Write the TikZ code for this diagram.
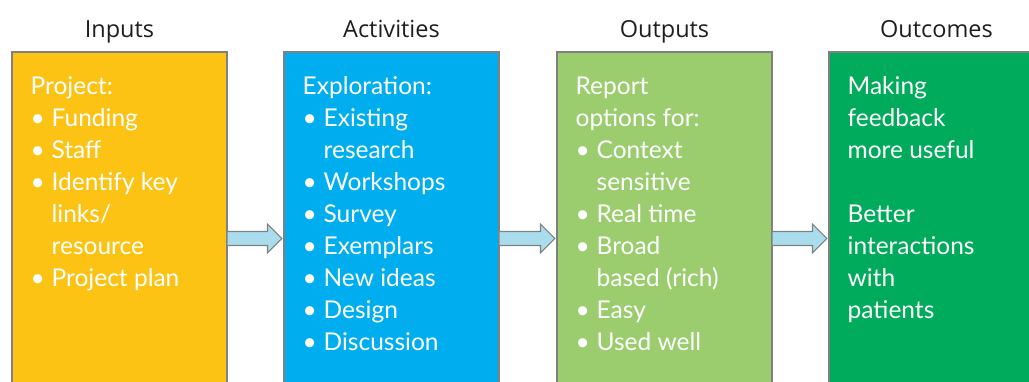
\documentclass[tikz,border=0pt]{standalone}
\usepackage{fontspec}
\setmainfont{Lato}
\newfontfamily\headfont{Open Sans}
\usetikzlibrary{calc}

\definecolor{inyellow}{HTML}{FCC314}
\definecolor{actblue}{HTML}{00AEEF}
\definecolor{outgreen}{HTML}{9BCD6E}
\definecolor{ocgreen}{HTML}{00AB5C}
\definecolor{arrowfill}{HTML}{A9DDED}
\definecolor{edgegray}{HTML}{808080}
\definecolor{headtext}{HTML}{1E1E1E}

% bullet marker and hanging indent for wrapped lines
\newcommand{\bitem}{\makebox[21pt][l]{\hspace{0pt}\textbullet}}
\newcommand{\hang}{\hspace*{21pt}}

\tikzset{
  stagebox/.style={rectangle, draw=edgegray, line width=1.1pt, inner sep=0pt,
    minimum width=215pt, minimum height=373pt},
  stagetitle/.style={anchor=base, inner sep=0pt, text=headtext,
    font=\headfont\fontsize{23.5}{28}\selectfont},
  stagetext/.style={anchor=base west, inner sep=0pt, text=white,
    font=\fontsize{24.5}{32}\selectfont},
  flowarrow/.style={draw=edgegray, fill=arrowfill, line width=1.1pt, line join=miter}
}

\newcommand{\flow}[2]{%
  \filldraw[flowarrow] ($(#1.east)+(0,7)$) -- ($(#2.west)+(-16,7)$)
    -- ($(#2.west)+(-16,14.5)$) -- ($(#2.west)+(-1.5,0)$)
    -- ($(#2.west)+(-16,-14.5)$) -- ($(#2.west)+(-16,-7)$)
    -- ($(#1.east)+(0,-7)$);}

\begin{document}
\begin{tikzpicture}[x=1pt, y=-1pt]
  \useasboundingbox (0,0) rectangle (1029,381);
  \begin{scope}
  \clip (0,0) rectangle (1029,381);

  % the four stages
  \node[stagebox, fill=inyellow] (inputs)     at (119.5,238.5) {};
  \node[stagebox, fill=actblue]  (activities) at (391.5,238.5) {};
  \node[stagebox, fill=outgreen] (outputs)    at (664.5,238.5) {};
  \node[stagebox, fill=ocgreen]  (outcomes)   at (936.5,238.5) {};

  % headings
  \node[stagetitle] (tinputs)     at ([yshift=13.5pt]inputs.north)     {Inputs};
  \node[stagetitle] (tactivities) at ([yshift=13.5pt]activities.north) {Activities};
  \node[stagetitle] (toutputs)    at ([yshift=13.5pt]outputs.north)    {Outputs};
  \node[stagetitle] (toutcomes)   at ([yshift=13.5pt]outcomes.north)   {Outcomes};

  % box contents
  \node[stagetext] (xinputs) at ([xshift=19pt,yshift=-43pt]inputs.north west)
    {\parbox[t]{190pt}{Project:\\
     \bitem Funding\\
     \bitem Staff\\
     \bitem Identify key\\
     \hang links/\\
     \hang resource\\
     \bitem Project plan}};
  \node[stagetext] (xactivities) at ([xshift=19pt,yshift=-43pt]activities.north west)
    {\parbox[t]{190pt}{Exploration:\\
     \bitem Existing\\
     \hang research\\
     \bitem Workshops\\
     \bitem Survey\\
     \bitem Exemplars\\
     \bitem New ideas\\
     \bitem Design\\
     \bitem Discussion}};
  \node[stagetext] (xoutputs) at ([xshift=19pt,yshift=-43pt]outputs.north west)
    {\parbox[t]{190pt}{Report\\
     options for:\\
     \bitem Context\\
     \hang sensitive\\
     \bitem Real time\\
     \bitem Broad\\
     \hang based (rich)\\
     \bitem Easy\\
     \bitem Used well}};
  \node[stagetext] (xoutcomes) at ([xshift=19pt,yshift=-43pt]outcomes.north west)
    {\parbox[t]{190pt}{Making\\
     feedback\\
     more useful\\[32pt]
     Better\\
     interactions\\
     with\\
     patients}};

  % connectors between stages
  \flow{inputs}{activities}
  \flow{activities}{outputs}
  \flow{outputs}{outcomes}
  \end{scope}
\end{tikzpicture}
\end{document}
